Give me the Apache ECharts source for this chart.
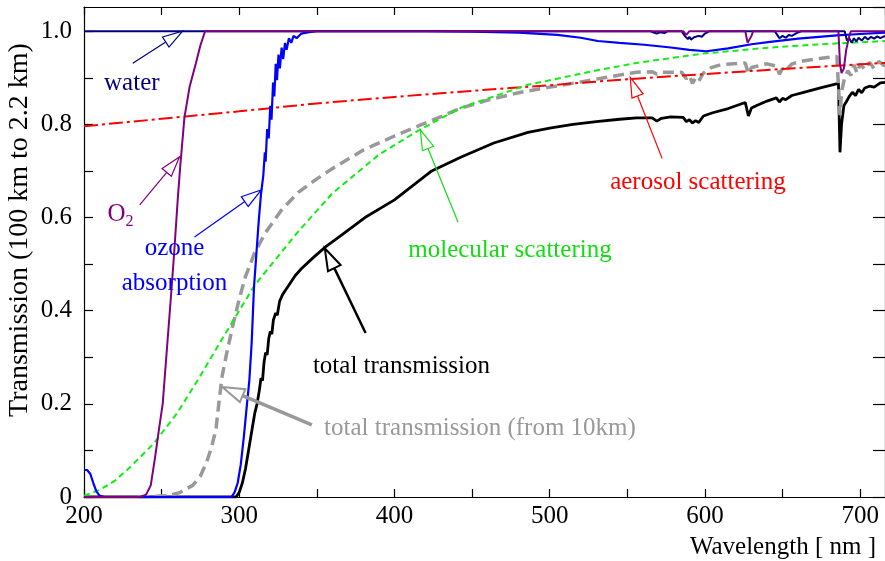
<!DOCTYPE html>
<html>
<head>
<meta charset="utf-8">
<script src="https://cdn.jsdelivr.net/npm/echarts@6/dist/echarts.min.js"></script>
<style>
  html, body { margin: 0; padding: 0; background: #fff; }
  #chart { width: 885px; height: 561px; }
</style>
</head>
<body>
<div id="chart"></div>
<script>
// wavelength [nm], transmission
var total = [[200,0],[298,0],[300,0.01],[302,0.03],[304,0.06],[306,0.1],[308,0.14],[310,0.18],[311.5,0.2],[313,0.23],[314,0.255],[315,0.25],[316,0.29],[317,0.31],[318,0.305],[319,0.34],[320,0.355],[321,0.35],[322,0.38],[323.5,0.395],[324.5,0.39],[326,0.42],[328,0.435],[330,0.445],[333,0.46],[336,0.475],[340,0.49],[348,0.515],[356,0.538],[365,0.56],[381,0.6],[400,0.638],[424,0.7],[443,0.73],[464,0.76],[486,0.783],[500,0.792],[515,0.8],[530,0.806],[545,0.811],[556,0.814],[566,0.814],[569,0.807],[572,0.813],[578,0.816],[586,0.815],[588,0.806],[590,0.81],[592,0.803],[594,0.808],[596,0.804],[599,0.818],[605,0.825],[615,0.834],[626,0.847],[628,0.818],[630,0.835],[633,0.84],[640,0.85],[646,0.857],[648,0.848],[650,0.856],[652,0.853],[656,0.862],[663,0.868],[675,0.879],[686,0.888],[687,0.74],[688,0.8],[689.5,0.84],[691,0.848],[693,0.86],[695,0.869],[697,0.862],[699,0.875],[701,0.868],[703,0.878],[706,0.882],[709,0.88],[713,0.889],[716,0.89]];

var total10km = [[235,0],[255,0.003],[262,0.01],[270,0.025],[275,0.045],[279,0.075],[282,0.105],[285,0.145],[287,0.205],[289,0.26],[292,0.31],[296,0.37],[300,0.425],[304,0.473],[310,0.525],[317,0.568],[327,0.615],[338,0.654],[350,0.683],[360,0.705],[380,0.745],[400,0.775],[415,0.796],[443,0.835],[460,0.852],[480,0.868],[500,0.88],[518,0.89],[540,0.903],[556,0.912],[566,0.913],[569,0.908],[572,0.912],[585,0.912],[588,0.898],[590,0.905],[592,0.888],[594,0.9],[596,0.893],[599,0.91],[604,0.922],[610,0.928],[626,0.932],[628,0.908],[630,0.922],[640,0.93],[646,0.925],[648,0.908],[650,0.92],[652,0.915],[656,0.93],[663,0.936],[675,0.942],[685,0.946],[687,0.82],[688,0.87],[690,0.9],[692,0.915],[694,0.905],[696,0.928],[698,0.91],[700,0.93],[703,0.918],[706,0.933],[709,0.92],[712,0.935],[716,0.925]];

var aerosol = [[200,0.796],[250,0.812],[300,0.828],[350,0.845],[400,0.859],[450,0.872],[500,0.884],[550,0.897],[600,0.908],[650,0.919],[716,0.932]];

var molecular = [[200,0.003],[210,0.015],[220,0.035],[230,0.065],[245,0.115],[260,0.18],[274,0.255],[290,0.345],[310,0.455],[338,0.57],[360,0.652],[390,0.735],[415,0.786],[443,0.836],[486,0.885],[529,0.915],[556,0.932],[599,0.952],[642,0.965],[680,0.973],[716,0.979]];

var ozone = [[200,0.058],[202,0.058],[204,0.05],[206,0.03],[208,0.012],[210,0.003],[213,0],[295,0],[297,0.01],[299,0.03],[301,0.07],[303,0.13],[305,0.2],[306.5,0.25],[308,0.33],[309.5,0.45],[311,0.52],[312.5,0.59],[314,0.65],[315.5,0.69],[316.5,0.74],[317,0.72],[318,0.79],[319,0.77],[320,0.84],[320.8,0.81],[321.8,0.89],[322.6,0.86],[323.5,0.93],[324.3,0.895],[325.3,0.95],[326.2,0.92],[327.3,0.965],[328.3,0.94],[329.5,0.975],[330.5,0.96],[332,0.985],[333.5,0.975],[335,0.99],[337,0.985],[340,0.995],[345,0.998],[350,1],[420,1],[450,0.999],[480,0.997],[505,0.992],[520,0.986],[531,0.979],[545,0.975],[561,0.971],[578,0.965],[590,0.96],[601,0.957],[615,0.963],[630,0.972],[642,0.977],[660,0.984],[685,0.991],[700,0.994],[716,0.997]];

var water = [[200,1],[565,1],[567,0.997],[569,0.995],[571,0.998],[574,0.996],[576,1],[585,1],[587,0.99],[589,0.983],[590,0.988],[591,0.982],[593,0.987],[594,0.984],[596,0.99],[598,0.988],[600,0.995],[603,1],[645,1],[647,0.99],[648,0.985],[650,0.99],[652,0.986],[654,0.992],[656,0.99],[659,0.996],[662,1],[690,1],[691.5,0.98],[693,0.985],[694.5,0.975],[696,0.985],[697.5,0.978],[699,0.986],[701,0.98],[703,0.988],[705,0.982],[707,0.988],[709,0.984],[711,0.989],[713,0.985],[716,0.99]];

var oxygen = [[200,0],[236,0],[240,0.005],[243,0.025],[246,0.09],[248.5,0.15],[250.7,0.2],[253,0.3],[256,0.43],[258,0.52],[260.4,0.64],[262,0.71],[264.7,0.815],[268,0.88],[272,0.93],[275,0.97],[278,1],[586,1],[588,0.992],[590,1],[626,1],[627.5,0.975],[628.5,0.972],[630,0.99],[631,1],[686,1],[687,0.93],[688,0.91],[689.5,0.92],[691,0.96],[693,0.99],[694,1],[716,1]];

// annotations: [text, colour, text pos, arrow start, arrow tip, line width]
var notes = [
    ['water', '#000080', [230.8, 0.888], [231.4, 0.931], [263.5, 1.0], 1.2],
    ['O', '#800080', [221, 0.607], [235.9, 0.627], [261.5, 0.73], 1.2],
    ['ozone', '#0000ff', [258.3, 0.534], [271.2, 0.558], [314.1, 0.659], 1.2],
    ['absorption', '#0000ff', [258.3, 0.459], null, null, 0],
    ['molecular scattering', '#11dd11', [474.4, 0.53], [441, 0.59], [416.7, 0.788], 1.2],
    ['aerosol scattering', '#ff0000', [595.5, 0.676], [572.4, 0.727], [551.9, 0.901], 1.2],
    ['total transmission', '#000000', [404.5, 0.281], [381.4, 0.352], [355.1, 0.534], 2.5],
    ['total transmission (from 10km)', '#999999', [455.1, 0.148], [346.8, 0.155], [289.1, 0.236], 3.5]
];

var FONT = 'Liberation Serif';
var myChart = echarts.init(document.getElementById('chart'));

function curve(name, data, color, width, type) {
    return {
        name: name,
        type: 'line',
        data: data,
        symbol: 'none',
        silent: true,
        lineStyle: {color: color, width: width, type: type},
        itemStyle: {color: color}
    };
}

function tickLabelX(v) {
    return v % 100 === 0 ? String(v) : '';
}
function tickLabelY(v) {
    var k = Math.round(v * 10);
    if (Math.abs(v * 10 - k) > 1e-6 || k % 2 !== 0) return '';
    return k === 0 ? '0' : (k / 10).toFixed(1);
}

var axisLine = {show: true, onZero: false, lineStyle: {color: '#000', width: 1.2}};

option = {
    animation: false,
    backgroundColor: '#fff',
    grid: {left: 84, right: -4, top: 7, bottom: 64, containLabel: false},
    xAxis: [
        {
            type: 'value', min: 200, max: 716, interval: 50, position: 'bottom',
            axisLine: axisLine,
            axisTick: {inside: true, length: 8, lineStyle: {color: '#000', width: 1.2}},
            axisLabel: {formatter: tickLabelX, color: '#000', fontFamily: FONT, fontSize: 25, margin: 7, showMaxLabel: false, showMinLabel: true},
            splitLine: {show: false}
        },
        {
            type: 'value', min: 200, max: 716, interval: 50, position: 'top',
            axisLine: axisLine,
            axisTick: {inside: true, length: 8, lineStyle: {color: '#000', width: 1.2}},
            axisLabel: {show: false},
            splitLine: {show: false}
        }
    ],
    yAxis: [
        {
            type: 'value', min: 0, max: 1.052, interval: 0.1, position: 'left',
            axisLine: axisLine,
            axisTick: {inside: true, length: 9, lineStyle: {color: '#000', width: 1.2}},
            axisLabel: {formatter: tickLabelY, color: '#000', fontFamily: FONT, fontSize: 25, margin: 12, showMaxLabel: false},
            splitLine: {show: false}
        },
        {
            type: 'value', min: 0, max: 1.052, interval: 0.1, position: 'right',
            axisLine: axisLine,
            axisTick: {inside: true, length: 12, lineStyle: {color: '#000', width: 1.2}},
            axisLabel: {show: false},
            splitLine: {show: false}
        }
    ],
    series: [
        curve('total transmission', total, '#000000', 2.8, 'solid'),
        curve('total transmission (from 10km)', total10km, '#999999', 3.5, [11, 6]),
        curve('aerosol scattering', aerosol, '#ff0000', 2, [14, 4, 3, 4]),
        curve('molecular scattering', molecular, '#11ee11', 2, [6, 4]),
        curve('ozone absorption', ozone, '#0000ff', 2.2, 'solid'),
        curve('water', water, '#000080', 2, 'solid'),
        curve('O2', oxygen, '#800080', 2, 'solid')
    ]
};
myChart.setOption(option);

// annotations and arrows, placed in data units
function px(p) {
    return myChart.convertToPixel({gridIndex: 0}, p);
}
var graphics = [];
notes.forEach(function (n) {
    var t = px(n[2]);
    graphics.push({
        type: 'text', x: t[0], y: t[1], z: 100,
        style: {text: n[0], fill: n[1], font: '25px "' + FONT + '"', align: 'center', verticalAlign: 'middle'}
    });
    if (n[0] === 'O') {
        graphics.push({
            type: 'text', x: t[0] + 13, y: t[1] + 8, z: 100,
            style: {text: '2', fill: n[1], font: '16px "' + FONT + '"', align: 'center', verticalAlign: 'middle'}
        });
    }
    if (!n[3]) return;
    var a = px(n[3]), b = px(n[4]);
    var dx = b[0] - a[0], dy = b[1] - a[1];
    var len = Math.sqrt(dx * dx + dy * dy);
    var ux = dx / len, uy = dy / len;
    var heavy = n[5] > 2;
    var L = heavy ? 22 : 20, W = heavy ? 7 : 6;
    var bx = b[0] - ux * L, by = b[1] - uy * L;
    graphics.push({
        type: 'line', z: 100,
        shape: {x1: a[0], y1: a[1], x2: bx, y2: by},
        style: {stroke: n[1], lineWidth: n[5]}
    });
    graphics.push({
        type: 'polygon', z: 100,
        shape: {points: [[b[0], b[1]], [bx - uy * W, by + ux * W], [bx + uy * W, by - ux * W]]},
        style: {fill: '#fff', stroke: n[1], lineWidth: heavy ? 2 : 1.2}
    });
});
graphics.push({
    type: 'text', x: 20, y: 230, rotation: Math.PI / 2, z: 100,
    style: {text: 'Transmission (100 km to 2.2 km)', fill: '#000', font: '28px "' + FONT + '"', align: 'center', verticalAlign: 'middle'}
});
graphics.push({
    type: 'text', x: 876, y: 547, z: 100,
    style: {text: 'Wavelength [ nm ]', fill: '#000', font: '25px "' + FONT + '"', align: 'right', verticalAlign: 'middle'}
});
myChart.setOption({graphic: graphics});
</script>
</body>
</html>
